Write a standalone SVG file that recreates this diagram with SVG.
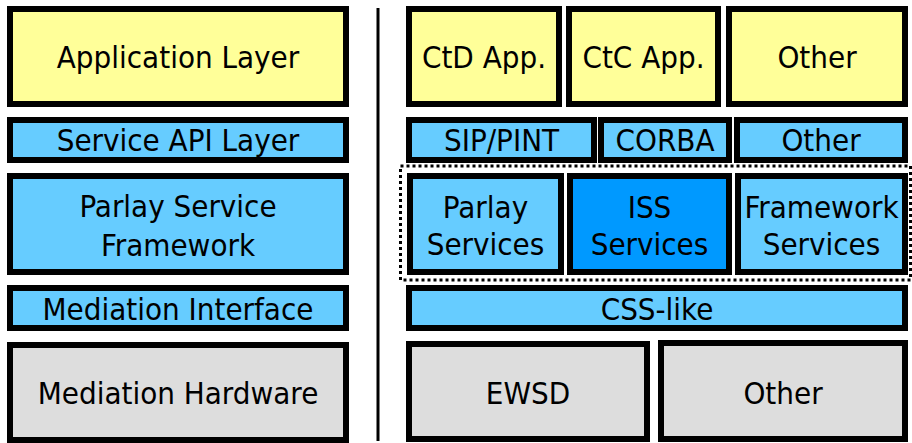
<svg xmlns="http://www.w3.org/2000/svg" width="912" height="443" viewBox="0 0 912 443">
  <style>
    .box { stroke: #000; stroke-width: 6; }
    .app { fill: #FFFF99; }
    .api { fill: #66CCFF; }
    .iss { fill: #0099FF; }
    .hw { fill: #DDDDDD; }
    text { font-family: "DejaVu Sans Condensed", "DejaVu Sans", sans-serif; font-stretch: condensed; font-size: 31px; fill: #000; text-anchor: middle; }
  </style>
  <rect width="912" height="443" fill="#FFFFFF"/>

  <!-- divider between the generic stack and the concrete stack, and the service group outline -->
  <g id="connectors">
    <line x1="378" y1="8" x2="378" y2="441" stroke="#000" stroke-width="3"/>
    <rect x="400.5" y="166" width="510" height="114" fill="none" stroke="#000" stroke-width="3" stroke-dasharray="3 3"/>
  </g>

  <!-- generic layer stack -->
  <g id="application-layer">
    <rect class="box app" x="10" y="9" width="336" height="95"/>
    <text x="178" y="68">Application Layer</text>
  </g>
  <g id="service-api-layer">
    <rect class="box api" x="10" y="120" width="336" height="40"/>
    <text x="178" y="151">Service API Layer</text>
  </g>
  <g id="parlay-service-framework">
    <rect class="box api" x="10" y="176" width="336" height="96"/>
    <text x="178" y="217">Parlay Service</text>
    <text x="178" y="256">Framework</text>
  </g>
  <g id="mediation-interface">
    <rect class="box api" x="10" y="288" width="336" height="40"/>
    <text x="178" y="320">Mediation Interface</text>
  </g>
  <g id="mediation-hardware">
    <rect class="box hw" x="10" y="345" width="336" height="95"/>
    <text x="178" y="404">Mediation Hardware</text>
  </g>

  <!-- concrete stack: applications -->
  <g id="ctd-app">
    <rect class="box app" x="409" y="9" width="150" height="95"/>
    <text x="484" y="68">CtD App.</text>
  </g>
  <g id="ctc-app">
    <rect class="box app" x="569" y="9" width="149" height="95"/>
    <text x="643.5" y="68">CtC App.</text>
  </g>
  <g id="other-app">
    <rect class="box app" x="729" y="9" width="176" height="95"/>
    <text x="817" y="68">Other</text>
  </g>

  <!-- concrete stack: APIs -->
  <g id="sip-pint">
    <rect class="box api" x="409" y="120" width="185" height="40"/>
    <text x="501.5" y="151">SIP/PINT</text>
  </g>
  <g id="corba">
    <rect class="box api" x="601" y="120" width="128" height="40"/>
    <text x="665" y="151">CORBA</text>
  </g>
  <g id="other-api">
    <rect class="box api" x="737" y="120" width="168" height="40"/>
    <text x="821" y="151">Other</text>
  </g>

  <!-- concrete stack: services -->
  <g id="parlay-services">
    <rect class="box api" x="410" y="176" width="151" height="96"/>
    <text x="485.5" y="218">Parlay</text>
    <text x="485.5" y="255">Services</text>
  </g>
  <g id="iss-services">
    <rect class="box iss" x="570" y="176" width="159" height="96"/>
    <text x="649.5" y="218">ISS</text>
    <text x="649.5" y="255">Services</text>
  </g>
  <g id="framework-services">
    <rect class="box api" x="738" y="176" width="167" height="96"/>
    <text x="821.5" y="218">Framework</text>
    <text x="821.5" y="255">Services</text>
  </g>

  <!-- concrete stack: mediation and switches -->
  <g id="css-like">
    <rect class="box api" x="409" y="288" width="496" height="40"/>
    <text x="657" y="320">CSS-like</text>
  </g>
  <g id="ewsd">
    <rect class="box hw" x="409" y="344" width="238" height="95"/>
    <text x="528" y="404">EWSD</text>
  </g>
  <g id="other-switch">
    <rect class="box hw" x="661" y="343" width="244" height="96"/>
    <text x="783" y="404">Other</text>
  </g>
</svg>
